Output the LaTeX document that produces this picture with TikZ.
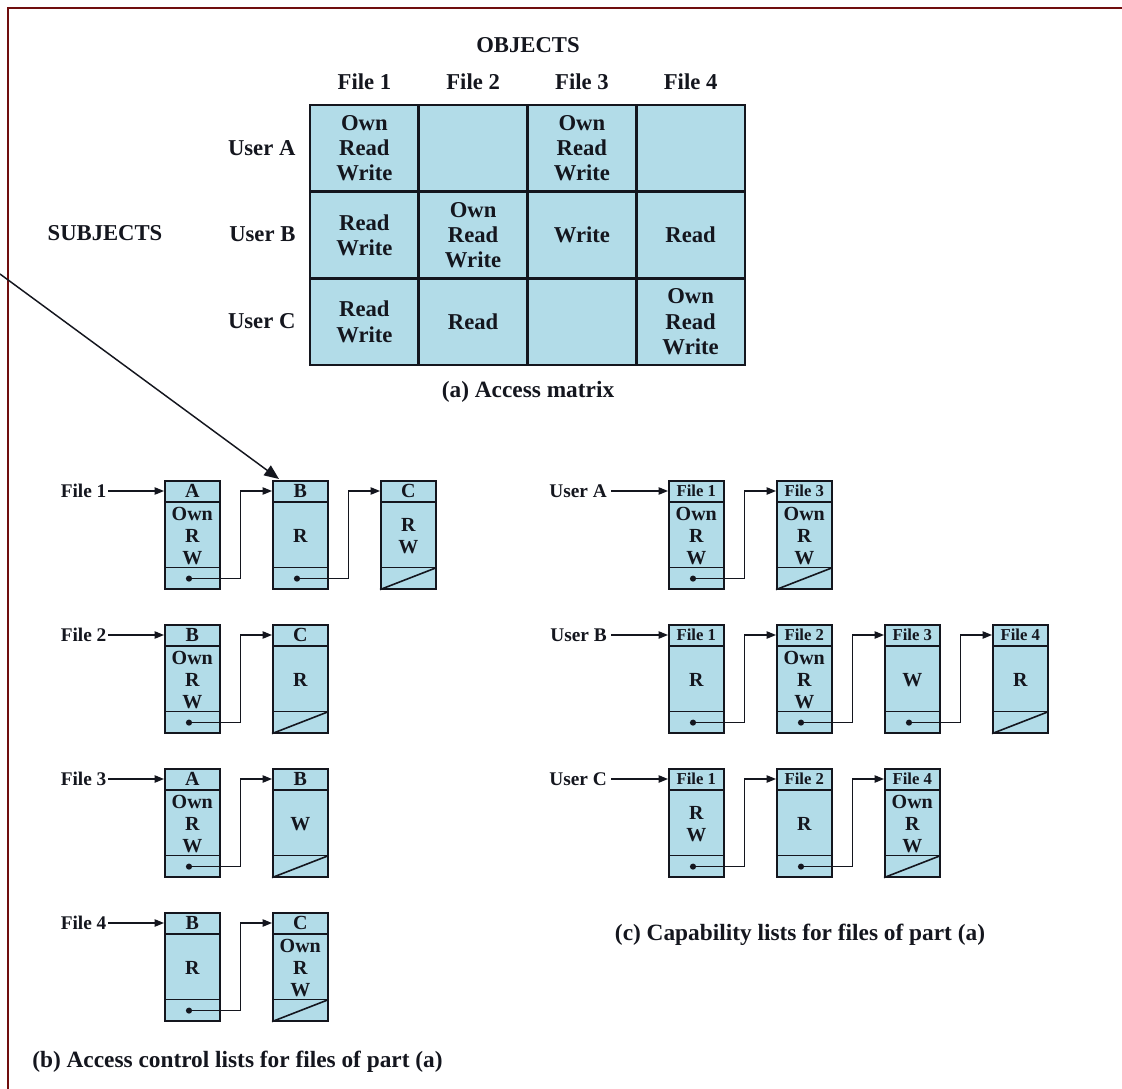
\documentclass[tikz,border=0pt]{standalone}
\usepackage{fontspec}
\setmainfont{Liberation Serif}
\usetikzlibrary{arrows.meta,calc}
\definecolor{cellblue}{RGB}{178,220,232}
\definecolor{framered}{RGB}{112,14,14}
\definecolor{ink}{RGB}{20,22,30}

\newcommand{\accbox}[5]{% name, left x, top y, header, body
  \node[lbox, anchor=north west] (#1) at (#2,#3) {};
  \draw[inner line] ($(#1.north west)+(0,22)$) -- ($(#1.north east)+(0,22)$);
  \draw[inner line] ($(#1.south west)+(0,-22)$) -- ($(#1.south east)+(0,-22)$);
  \node[hdtext] (#1-h) at ($(#1.north)+(0,11)$) {#4};
  \node[bodytext] (#1-b) at ($(#1.center)+(0,1)$) {#5};
  \coordinate (#1-in) at ($(#1.north west)+(0,11)$);
  \coordinate (#1-dot) at ($(#1.south west)+(25,-11)$);
}
\newcommand{\accnext}[2]{%
  \fill[ink] (#1-dot) circle[radius=2.3pt];
  \draw[conn] (#1-dot) -- ($(#1.south east)+(20,-11)$) |- (#2-in);
}
\newcommand{\accend}[1]{%
  \draw[inner line] (#1.south west) -- ($(#1.south east)+(0,-22)$);
}

\begin{document}
\begin{tikzpicture}[x=0.75pt, y=-0.75pt,
  every node/.style={text=ink},
  cell/.style={draw=ink, fill=cellblue, line width=2pt, minimum width=81.56pt,
    minimum height=65pt, inner sep=0pt, align=center,
    font=\bfseries\fontsize{17}{19}\selectfont},
  mlab/.style={font=\bfseries\fontsize{17}{19}\selectfont, inner sep=1pt},
  caption/.style={font=\bfseries\fontsize{17.5}{20}\selectfont, inner sep=0pt},
  lbox/.style={draw=ink, fill=cellblue, line width=1.2pt, minimum width=41.25pt,
    minimum height=81pt, inner sep=0pt},
  inner line/.style={draw=ink, line width=1.2pt},
  hdtext/.style={font=\bfseries\fontsize{15}{17}\selectfont, inner sep=0pt},
  bodytext/.style={font=\bfseries\fontsize{15}{16.5}\selectfont, inner sep=0pt, align=center},
  llab/.style={font=\bfseries\fontsize{14.5}{16}\selectfont, inner sep=1pt},
  rlab/.style={font=\bfseries\fontsize{14.5}{16}\selectfont, inner sep=3pt},
  conn/.style={draw=ink, line width=0.9pt, -{Triangle[length=7pt,width=5.5pt]}},
  bigarrow/.style={draw=ink, line width=1.1pt, -{Triangle[length=11pt,width=9pt]}},
  ]
\useasboundingbox (0,0) rectangle (1122,1089);
\fill[white] (0,0) rectangle (1122,1089);
\draw[framered, line width=1.8pt] (8,1089) -- (8,8) -- (1122,8);

% ---------- (a) access matrix ----------
\node[mlab] (objects) at (528,45) {OBJECTS};
\node[mlab] (col1) at (364.4,82) {File 1};
\node[mlab] (col2) at (473.1,82) {File 2};
\node[mlab] (col3) at (581.9,82) {File 3};
\node[mlab] (col4) at (690.6,82) {File 4};
\node[mlab] (subjects) at (105,233) {SUBJECTS};
\node[mlab, anchor=east] (rowA) at (297,148) {User A};
\node[mlab, anchor=east] (rowB) at (297,234) {User B};
\node[mlab, anchor=east] (rowC) at (297,321) {User C};

\node[cell] (m11) at (364.4,148.3) {Own\\Read\\Write};
\node[cell] (m12) at (473.1,148.3) {};
\node[cell] (m13) at (581.9,148.3) {Own\\Read\\Write};
\node[cell] (m14) at (690.6,148.3) {};
\node[cell] (m21) at (364.4,235) {Read\\Write};
\node[cell] (m22) at (473.1,235) {Own\\Read\\Write};
\node[cell] (m23) at (581.9,235) {Write};
\node[cell] (m24) at (690.6,235) {Read};
\node[cell] (m31) at (364.4,321.7) {Read\\Write};
\node[cell] (m32) at (473.1,321.7) {Read};
\node[cell] (m33) at (581.9,321.7) {};
\node[cell] (m34) at (690.6,321.7) {Own\\Read\\Write};

\node[caption] (capa) at (528,392) {(a) Access matrix};

% ---------- (b) access control lists ----------
\accbox{b11}{164}{480}{A}{Own\\R\\W}
\accbox{b12}{272}{480}{B}{R}
\accbox{b13}{380}{480}{C}{R\\W}
\accnext{b11}{b12}
\accnext{b12}{b13}
\accend{b13}
\node[llab, anchor=east] (f1) at (108,491) {File 1};
\draw[conn] (f1.east) -- (b11-in);

\accbox{b21}{164}{624}{B}{Own\\R\\W}
\accbox{b22}{272}{624}{C}{R}
\accnext{b21}{b22}
\accend{b22}
\node[llab, anchor=east] (f2) at (108,635) {File 2};
\draw[conn] (f2.east) -- (b21-in);

\accbox{b31}{164}{768}{A}{Own\\R\\W}
\accbox{b32}{272}{768}{B}{W}
\accnext{b31}{b32}
\accend{b32}
\node[llab, anchor=east] (f3) at (108,779) {File 3};
\draw[conn] (f3.east) -- (b31-in);

\accbox{b41}{164}{912}{B}{R}
\accbox{b42}{272}{912}{C}{Own\\R\\W}
\accnext{b41}{b42}
\accend{b42}
\node[llab, anchor=east] (f4) at (108,923) {File 4};
\draw[conn] (f4.east) -- (b41-in);

\node[caption, anchor=west] (capb) at (32,1062) {(b) Access control lists for files of part (a)};

% ---------- (c) capability lists ----------
\newcommand{\fh}[1]{{\fontsize{12.5}{14}\selectfont #1}}
\accbox{c11}{668}{480}{\fh{File 1}}{Own\\R\\W}
\accbox{c12}{776}{480}{\fh{File 3}}{Own\\R\\W}
\accnext{c11}{c12}
\accend{c12}
\node[rlab, anchor=east] (ua) at (611,491) {User A};
\draw[conn] (ua.east) -- (c11-in);

\accbox{c21}{668}{624}{\fh{File 1}}{R}
\accbox{c22}{776}{624}{\fh{File 2}}{Own\\R\\W}
\accbox{c23}{884}{624}{\fh{File 3}}{W}
\accbox{c24}{992}{624}{\fh{File 4}}{R}
\accnext{c21}{c22}
\accnext{c22}{c23}
\accnext{c23}{c24}
\accend{c24}
\node[rlab, anchor=east] (ub) at (611,635) {User B};
\draw[conn] (ub.east) -- (c21-in);

\accbox{c31}{668}{768}{\fh{File 1}}{R\\W}
\accbox{c32}{776}{768}{\fh{File 2}}{R}
\accbox{c33}{884}{768}{\fh{File 4}}{Own\\R\\W}
\accnext{c31}{c32}
\accnext{c32}{c33}
\accend{c33}
\node[rlab, anchor=east] (uc) at (611,779) {User C};
\draw[conn] (uc.east) -- (c31-in);

\node[caption] (capc) at (800,935) {(c) Capability lists for files of part (a)};

% ---------- diagonal pointer ----------
\coordinate (diagstart) at (0,274);
\draw[bigarrow] (diagstart) -- ($(b12.north west)+(7,-1)$);
\end{tikzpicture}
\end{document}
